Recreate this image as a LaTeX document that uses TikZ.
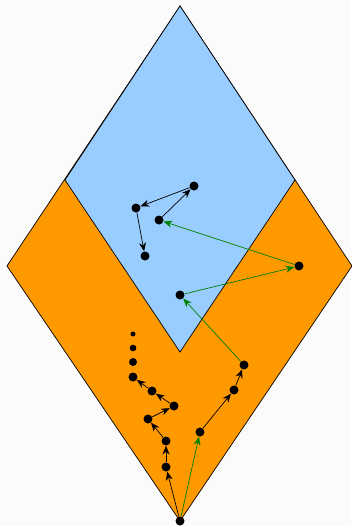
\documentclass[tikz,border=0pt]{standalone}
\usetikzlibrary{arrows.meta}
\definecolor{paleblue}{RGB}{153,204,255}
\definecolor{deeporange}{RGB}{255,153,0}
\definecolor{darkgreen}{RGB}{0,128,0}
\begin{document}
\begin{tikzpicture}[x=0.03cm,y=-0.03cm,
    dot/.style={circle,fill=black,inner sep=0pt,minimum size=0.27cm},
    step arrow/.style={-{Stealth[length=7.5pt,width=6pt]},line width=0.6pt},
    jump arrow/.style={step arrow,darkgreen}]
    \useasboundingbox (0,0) rectangle (351,526);
    \fill[gray!3] (0,0) rectangle (351,526);
    % the two diamonds
    \filldraw[fill=deeporange,line width=0.6pt] (180,6) -- (352,266) -- (180,521) -- (7,266) -- cycle;
    \filldraw[fill=paleblue,line width=0.6pt] (180,6) -- (295,180) -- (180,352) -- (65,180) -- cycle;
    % points in the blue part
    \node[dot] (b1) at (194,186) {};
    \node[dot] (b2) at (136,208) {};
    \node[dot] (b3) at (159,220) {};
    \node[dot] (b4) at (145,256) {};
    \node[dot] (c1) at (299,266) {};
    \node[dot] (c2) at (180,295) {};
    % points in the orange part
    \node[dot] (s) at (180,521) {};
    \node[dot] (l1) at (166,467) {};
    \node[dot] (l2) at (166,441) {};
    \node[dot] (l3) at (148,419) {};
    \node[dot] (l4) at (174,406) {};
    \node[dot] (l5) at (152,391) {};
    \node[dot] (l6) at (133,377) {};
    \node[dot,minimum size=0.24cm] (t1) at (133,362) {};
    \node[dot,minimum size=0.2cm] (t2) at (133,348) {};
    \node[dot,minimum size=0.15cm] (t3) at (133,334) {};
    \node[dot] (r1) at (200,432) {};
    \node[dot] (r2) at (234,390) {};
    \node[dot] (r3) at (244,365) {};
    % left chain
    \draw[step arrow] (s) -- (l1);
    \draw[step arrow] (l1) -- (l2);
    \draw[step arrow] (l2) -- (l3);
    \draw[step arrow] (l3) -- (l4);
    \draw[step arrow] (l4) -- (l5);
    \draw[step arrow] (l5) -- (l6);
    % right chain
    \draw[jump arrow] (s) -- (r1);
    \draw[step arrow] (r1) -- (r2);
    \draw[step arrow] (r2) -- (r3);
    \draw[jump arrow] (r3) -- (c2);
    \draw[jump arrow] (c2) -- (c1);
    \draw[jump arrow] (c1) -- (b3);
    \draw[step arrow] (b3) -- (b1);
    \draw[step arrow] (b1) -- (b2);
    \draw[step arrow] (b2) -- (b4);
\end{tikzpicture}
\end{document}
